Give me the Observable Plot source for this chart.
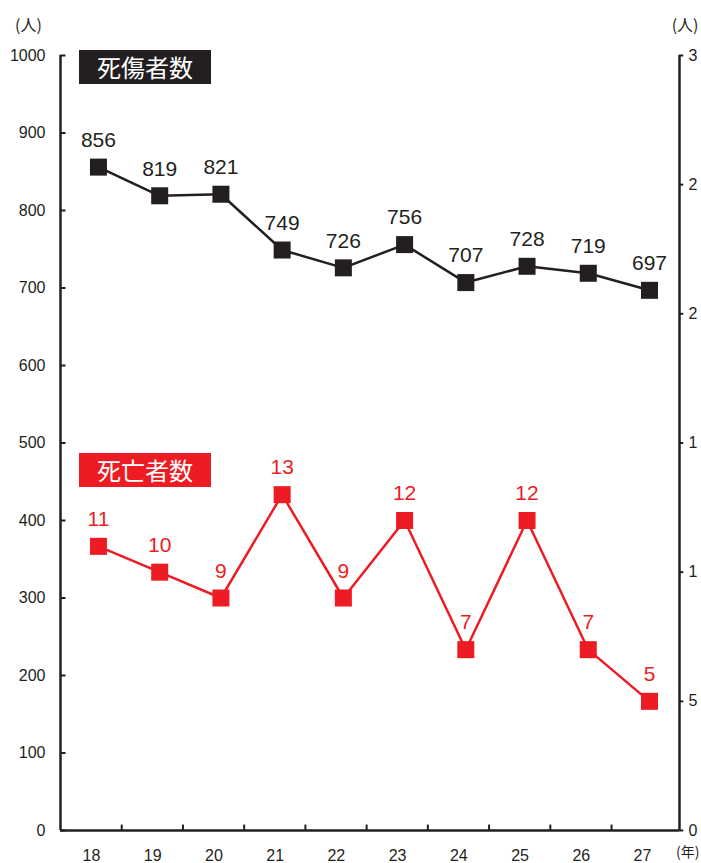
<!DOCTYPE html>
<html><head><meta charset="utf-8">
<script src="https://cdn.jsdelivr.net/npm/d3@7"></script>
<script src="https://cdn.jsdelivr.net/npm/@observablehq/plot@0.6"></script>
<style>
body{margin:0;background:#fff;}
#wrap{position:relative;width:701px;height:863px;}
.tag{position:absolute;left:79px;width:132px;height:34px;color:#fff;font-family:"Noto Sans CJK JP",sans-serif;font-size:24px;line-height:34px;text-align:center;letter-spacing:0px;}
</style></head>
<body><div id="wrap"></div>
<script>
const years = [18,19,20,21,22,23,24,25,26,27];
const casualties = [856,819,821,749,726,756,707,728,719,697];
const deaths = [11,10,9,13,9,12,7,12,7,5];
const leftTicks = [0,100,200,300,400,500,600,700,800,900,1000];
const rightTicks = [0,5,10,15,20,25,30];
const rightTickLabels = ["0","5","1","1","2","2","3"];
const yearLabels = ["18","19","20","21","22","23","24","25","26","27"];
const seriesNames = ["死傷者数","死亡者数"];
const unitLabel = "(人)";
const yearUnit = "(年)";

const BLACK = "#231f20", RED = "#ed1c24";
const xmin = 17.38, xmax = 27.49;
const rightMax = 30, leftMax = 1000;
const toLeft = v => v * leftMax / rightMax;

const black = years.map((y,i)=>({year:y, v:casualties[i]}));
const red = years.map((y,i)=>({year:y, v:toLeft(deaths[i]), label:deaths[i]}));
const font = "'Liberation Sans', Arial, sans-serif";
const cjk = "'Noto Sans CJK JP', sans-serif";

const chart = Plot.plot({
  width: 701, height: 863,
  marginLeft: 60, marginRight: 22, marginTop: 55, marginBottom: 33,
  style: {fontFamily: font, background: "#fff"},
  x: {domain: [xmin, xmax], axis: null},
  y: {domain: [0, leftMax], axis: null},
  marks: [
    Plot.ruleX([xmin], {stroke: BLACK, strokeWidth: 2.5}),
    Plot.ruleX([xmax], {stroke: BLACK, strokeWidth: 2.5}),
    Plot.ruleY([0], {x1: xmin, x2: xmax, stroke: BLACK, strokeWidth: 2.5}),
    Plot.ruleY(leftTicks, {y: d=>d, x1: xmin, x2: xmin + 0.09, stroke: BLACK, strokeWidth: 2}),
    Plot.text(leftTicks, {x: xmin, y: d=>d, text: d=>String(d), dx: -15, textAnchor: "end", fontSize: 16, fill: BLACK}),
    Plot.ruleY(rightTicks, {y: d=>toLeft(d), x1: xmax, x2: xmax + 0.07, stroke: BLACK, strokeWidth: 2}),
    Plot.text(rightTicks, {x: xmax, y: d=>toLeft(d), text: (d,i)=>rightTickLabels[i], dx: 9, textAnchor: "start", fontSize: 16, fill: BLACK}),
    Plot.ruleX(years.slice(0,-1), {x: d=>d + 0.38, y1: 0, y2: 7, stroke: BLACK, strokeWidth: 2}),
    Plot.text(years, {x: d=>d, y: 0, text: (d,i)=>yearLabels[i], dy: 25, dx: -7, fontSize: 16, fill: BLACK}),
    Plot.text([unitLabel], {frameAnchor: "top-left", dx: -32, dy: -36, textAnchor: "middle", fontSize: 16, fill: BLACK, fontFamily: cjk}),
    Plot.text([unitLabel], {frameAnchor: "top-right", dx: 19, dy: -36, textAnchor: "end", fontSize: 16, fill: BLACK, fontFamily: cjk}),
    Plot.text([yearUnit], {frameAnchor: "bottom-right", dx: 20, dy: 26, textAnchor: "end", fontSize: 14, fill: BLACK, fontFamily: cjk}),
    Plot.line(black, {x: "year", y: "v", stroke: BLACK, strokeWidth: 2.5}),
    Plot.dot(black, {x: "year", y: "v", symbol: "square", r: 9.6, fill: BLACK, stroke: "none"}),
    Plot.text(black, {x: "year", y: "v", text: d=>String(d.v), dy: -27, fontSize: 21, fill: BLACK}),
    Plot.line(red, {x: "year", y: "v", stroke: RED, strokeWidth: 2.5}),
    Plot.dot(red, {x: "year", y: "v", symbol: "square", r: 9.6, fill: RED, stroke: "none"}),
    Plot.text(red, {x: "year", y: "v", text: d=>String(d.label), dy: -27, fontSize: 21, fill: RED})
  ]
});
const wrap = document.getElementById("wrap");
wrap.appendChild(chart);
const t1 = document.createElement("div");
t1.className = "tag"; t1.style.top = "50px"; t1.style.background = BLACK; t1.textContent = seriesNames[0];
const t2 = document.createElement("div");
t2.className = "tag"; t2.style.top = "453px"; t2.style.background = RED; t2.textContent = seriesNames[1];
wrap.appendChild(t1); wrap.appendChild(t2);
</script></body></html>
